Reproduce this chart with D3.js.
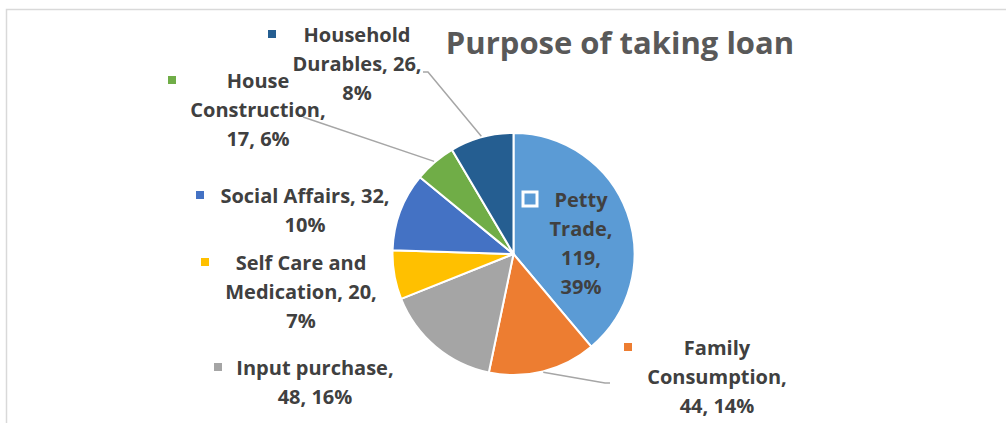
<!DOCTYPE html>
<html>
<head>
<meta charset="utf-8">
<script src="https://cdn.jsdelivr.net/npm/d3@7"></script>
<style>
  html, body { margin: 0; padding: 0; background: #fff; }
  svg { display: block; }
  text { font-family: "Open Sans", Lato, sans-serif; font-weight: bold; }
</style>
</head>
<body>
<div id="chart"></div>
<script>
// data
const categories = ["Petty Trade", "Family Consumption", "Input purchase", "Self Care and Medication",
  "Social Affairs", "House Construction", "Household Durables"];
const values = [119, 44, 48, 20, 32, 17, 26];
const colors = ["#5B9BD5", "#ED7D31", "#A5A5A5", "#FFC000", "#4472C4", "#70AD47", "#255E91"];
const title = "Purpose of taking loan";

const total = d3.sum(values);
const pct = values.map(v => Math.round(v / total * 100) + "%");

// how each label wraps (same as the excel data labels)
const labelLines = [
  ["Petty", "Trade,", values[0] + ",", pct[0]],
  ["Family", "Consumption,", values[1] + ", " + pct[1]],
  ["Input purchase,", values[2] + ", " + pct[2]],
  ["Self Care and", "Medication, " + values[3] + ",", pct[3]],
  ["Social Affairs, " + values[4] + ",", pct[4]],
  ["House", "Construction,", values[5] + ", " + pct[5]],
  ["Household", "Durables, " + values[6] + ",", pct[6]]
];

// label placement: centre x, first baseline y, marker x
const labelPos = [
  {x: 581, y: 207, mx: 530},
  {x: 717, y: 355, mx: 628},
  {x: 315, y: 375, mx: 218},
  {x: 301, y: 270, mx: 205},
  {x: 305, y: 203, mx: 200},
  {x: 258, y: 88,  mx: 172},
  {x: 357, y: 42,  mx: 272}
];
// leader line start points (label side), null = no leader
const leaderFrom = [null, [[610, 383], [605, 383]], null, null, null, [[303, 117]], [[423, 72], [428, 72]]];

const W = 1006, H = 423;
const cx = 513.5, cy = 254, R = 121;
const lineH = 29;

const svg = d3.select("#chart").append("svg")
  .attr("width", W).attr("height", H);

// chart area frame
svg.append("rect")
  .attr("x", 6.5).attr("y", 9.5)
  .attr("width", W + 20).attr("height", H + 20)
  .attr("fill", "none").attr("stroke", "#D9D9D9").attr("stroke-width", 1.5);

svg.append("text")
  .attr("x", 620).attr("y", 54)
  .attr("text-anchor", "middle")
  .attr("font-size", 31)
  .attr("fill", "#595959")
  .text(title);

const pie = d3.pie().sort(null).value(d => d);
const arcs = pie(values);
const arc = d3.arc().innerRadius(0).outerRadius(R);
const edge = d3.arc().innerRadius(R + 1).outerRadius(R + 1);

const g = svg.append("g").attr("transform", "translate(" + cx + "," + cy + ")");

g.selectAll("path.slice")
  .data(arcs)
  .join("path")
  .attr("class", "slice")
  .attr("d", arc)
  .attr("fill", (d, i) => colors[i])
  .attr("stroke", "#fff")
  .attr("stroke-width", 2)
  .attr("stroke-linejoin", "round");

// leader lines
arcs.forEach((d, i) => {
  if (!leaderFrom[i]) return;
  const c = edge.centroid(d);
  const pts = leaderFrom[i].concat([[cx + c[0], cy + c[1]]]);
  svg.append("path")
    .attr("d", d3.line()(pts))
    .attr("fill", "none")
    .attr("stroke", "#A6A6A6")
    .attr("stroke-width", 1.5);
});

// labels
const lab = svg.append("g");
categories.forEach((c, i) => {
  const p = labelPos[i];
  if (i === 0) {
    lab.append("rect")
      .attr("x", p.mx - 7).attr("y", p.y - 8 - 7)
      .attr("width", 14).attr("height", 14)
      .attr("fill", colors[i]).attr("stroke", "#fff").attr("stroke-width", 3);
  } else {
    lab.append("rect")
      .attr("x", p.mx - 4).attr("y", p.y - 8 - 4)
      .attr("width", 8).attr("height", 8)
      .attr("fill", colors[i]);
  }
  const t = lab.append("text")
    .attr("text-anchor", "middle")
    .attr("font-size", 20)
    .attr("fill", "#404040");
  labelLines[i].forEach((s, k) => {
    t.append("tspan").attr("x", p.x).attr("y", p.y + k * lineH).text(s);
  });
});
</script>
</body>
</html>
